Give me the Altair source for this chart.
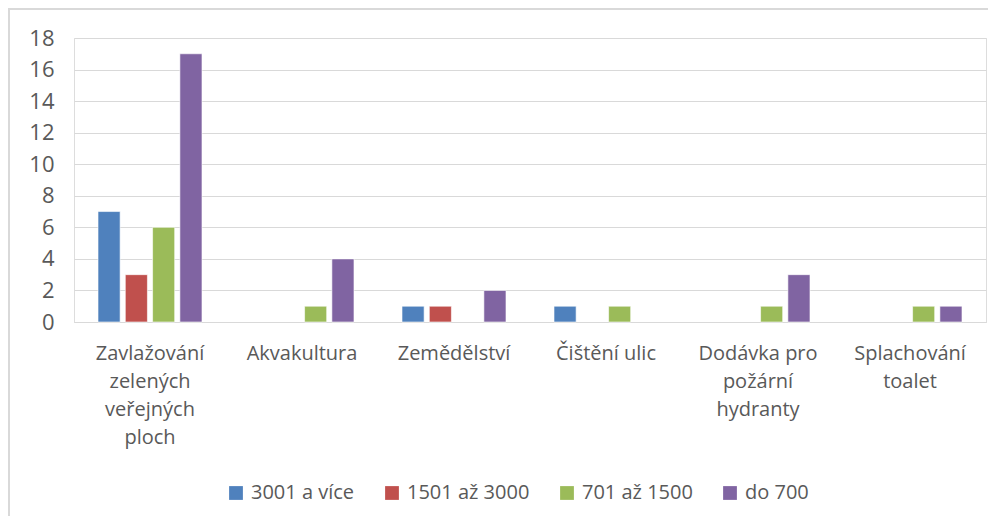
import altair as alt
import pandas as pd
import json

categories = [
    "Zavlažování zelených veřejných ploch",
    "Akvakultura",
    "Zemědělství",
    "Čištění ulic",
    "Dodávka pro požární hydranty",
    "Splachování toalet",
]
label_lines = [
    ["Zavlažování", "zelených", "veřejných", "ploch"],
    ["Akvakultura"],
    ["Zemědělství"],
    ["Čištění ulic"],
    ["Dodávka pro", "požární", "hydranty"],
    ["Splachování", "toalet"],
]
series = ["3001 a více", "1501 až 3000", "701 až 1500", "do 700"]
colors = ["#4F81BD", "#C0504D", "#9BBB59", "#8064A2"]

v_3001 = [7, 0, 1, 1, 0, 0]
v_1501 = [3, 0, 1, 0, 0, 0]
v_701 = [6, 1, 0, 1, 1, 1]
v_do700 = [17, 4, 2, 0, 3, 1]

rows = []
for s, vals in zip(series, [v_3001, v_1501, v_701, v_do700]):
    for c, v in zip(categories, vals):
        if v > 0:
            rows.append({"kategorie": c, "skupina": s, "hodnota": v})
df = pd.DataFrame(rows)

# label expression: map each category to its wrapped lines
expr = "datum.label"
for c, lines in reversed(list(zip(categories, label_lines))):
    expr = f"datum.label == {json.dumps(c)} ? {json.dumps(lines)} : ({expr})"

FONT = "Open Sans"
GRAY = "#595959"
FRAME = "#d9d9d9"

bars = alt.Chart(df).mark_bar(stroke="white", strokeWidth=0.6).encode(
    x=alt.X("kategorie:N", sort=categories, title=None,
            scale=alt.Scale(domain=categories, paddingInner=0, paddingOuter=0),
            axis=alt.Axis(labelAngle=0, labelExpr=expr, labelFontSize=20,
                          labelLineHeight=28, labelPadding=21, ticks=False,
                          domainColor="#d9d9d9", labelColor=GRAY, labelFont=FONT,
                          labelLimit=200)),
    xOffset=alt.XOffset("skupina:N", sort=series,
                        scale=alt.Scale(domain=series, paddingInner=0.19, paddingOuter=0.88)),
    y=alt.Y("hodnota:Q", title=None,
            scale=alt.Scale(domain=[0, 18]),
            axis=alt.Axis(values=list(range(0, 19, 2)), domain=False, ticks=False,
                          labelFontSize=22, labelPadding=20, labelColor=GRAY,
                          labelFont=FONT, gridColor="#d9d9d9", gridWidth=1.2)),
    color=alt.Color("skupina:N", sort=series,
                    scale=alt.Scale(domain=series, range=colors),
                    legend=alt.Legend(title=None, orient="none", direction="horizontal",
                                      legendX=152, legendY=445,
                                      symbolType="square", symbolSize=190,
                                      symbolStrokeWidth=0, labelFontSize=20,
                                      labelFont=FONT, labelColor=GRAY,
                                      columnPadding=27, labelOffset=5)),
)

frame_df = pd.DataFrame({"k": [0]})
left_edge = alt.Chart(frame_df).mark_rule(color=FRAME, strokeWidth=2).encode(
    x=alt.value(-65), y=alt.value(-30), y2=alt.value(480)
)
top_edge = alt.Chart(frame_df).mark_rule(color=FRAME, strokeWidth=2).encode(
    x=alt.value(-66), x2=alt.value(914), y=alt.value(-29)
)

chart = alt.layer(bars, left_edge, top_edge).properties(
    width=912, height=284,
    autosize=alt.AutoSizeParams(type="none"),
    padding={"left": 66, "top": 30, "right": 2, "bottom": 194},
).configure_view(stroke=None).configure(background="white")

chart.save("out.html", embed_options={"renderer": "svg", "actions": False})
